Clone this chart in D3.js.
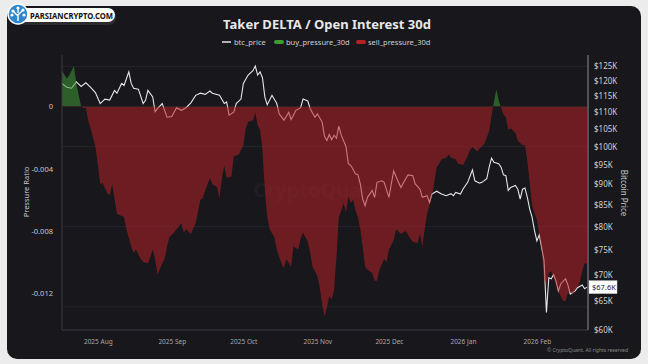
<!DOCTYPE html>
<html>
<head>
<meta charset="UTF-8">
<title>Taker DELTA / Open Interest 30d</title>
<script src="https://d3js.org/d3.v7.min.js"></script>
<style>
  body { margin: 0; padding: 0; background: #ececec; }
  svg { display: block; font-family: "Noto Sans", "Open Sans", sans-serif; }
</style>
</head>
<body>
<svg id="chart" width="648" height="364"></svg>
<script>
// btc price in $K
const priceData = [
  ["2025-07-17",119.2],["2025-07-19",117.9],["2025-07-21",117.6],["2025-07-23",119.7],["2025-07-25",118.2],
  ["2025-07-27",119.4],["2025-07-29",117.9],["2025-07-31",116.2],["2025-08-02",112.7],["2025-08-04",114.1],
  ["2025-08-06",113.8],["2025-08-08",116.9],["2025-08-09",116.0],["2025-08-11",119.2],["2025-08-12",118.5],
  ["2025-08-14",123.1],["2025-08-15",119.2],["2025-08-16",117.6],["2025-08-18",117.3],["2025-08-20",112.7],
  ["2025-08-21",113.7],["2025-08-22",116.9],["2025-08-24",114.8],["2025-08-25",110.2],["2025-08-26",111.1],
  ["2025-08-28",112.7],["2025-08-30",108.5],["2025-09-01",108.7],["2025-09-03",111.4],["2025-09-05",110.6],
  ["2025-09-07",111.4],["2025-09-09",112.9],["2025-09-11",115.3],["2025-09-13",116.0],["2025-09-15",115.6],
  ["2025-09-17",116.7],["2025-09-18",116.0],["2025-09-21",115.3],["2025-09-23",112.7],["2025-09-24",113.2],
  ["2025-09-25",109.1],["2025-09-27",110.0],["2025-09-28",112.7],["2025-09-30",114.1],["2025-10-01",119.2],
  ["2025-10-03",122.0],["2025-10-05",123.5],["2025-10-06",125.1],["2025-10-07",122.0],["2025-10-08",123.1],
  ["2025-10-09",121.1],["2025-10-10",114.8],["2025-10-11",112.3],["2025-10-13",115.3],["2025-10-15",112.7],
  ["2025-10-16",109.5],["2025-10-18",107.6],["2025-10-20",110.0],["2025-10-21",107.8],["2025-10-23",110.6],
  ["2025-10-25",111.4],["2025-10-26",114.1],["2025-10-28",113.5],["2025-10-29",111.1],["2025-10-31",108.5],
  ["2025-11-01",109.5],["2025-11-03",107.1],["2025-11-04",102.9],["2025-11-05",101.7],["2025-11-06",103.4],
  ["2025-11-07",101.9],["2025-11-08",103.2],["2025-11-09",102.3],["2025-11-10",105.8],["2025-11-11",103.2],
  ["2025-11-13",100.0],["2025-11-14",95.3],["2025-11-15",94.9],["2025-11-17",92.7],["2025-11-18",92.4],
  ["2025-11-19",90.1],["2025-11-20",86.4],["2025-11-21",84.8],["2025-11-22",86.8],["2025-11-24",88.5],
  ["2025-11-25",86.8],["2025-11-26",90.5],["2025-11-28",90.9],["2025-11-29",90.5],["2025-12-01",86.8],
  ["2025-12-02",90.1],["2025-12-03",93.4],["2025-12-05",90.5],["2025-12-06",89.2],["2025-12-08",91.4],
  ["2025-12-09",92.4],["2025-12-11",92.2],["2025-12-12",90.1],["2025-12-14",88.8],["2025-12-15",86.8],
  ["2025-12-17",87.2],["2025-12-18",85.6],["2025-12-19",87.6],["2025-12-21",88.3],["2025-12-23",87.6],
  ["2025-12-25",87.2],["2025-12-27",87.7],["2025-12-28",87.2],["2025-12-29",88.0],["2025-12-31",87.6],
  ["2026-01-01",88.8],["2026-01-03",90.5],["2026-01-04",92.1],["2026-01-05",93.7],["2026-01-06",90.9],
  ["2026-01-08",90.3],["2026-01-09",90.5],["2026-01-11",91.4],["2026-01-12",94.4],["2026-01-13",96.8],
  ["2026-01-14",95.7],["2026-01-16",95.3],["2026-01-17",94.4],["2026-01-18",92.4],["2026-01-19",92.2],
  ["2026-01-20",88.5],["2026-01-21",89.2],["2026-01-23",89.7],["2026-01-24",88.8],["2026-01-25",86.4],
  ["2026-01-26",88.8],["2026-01-27",89.1],["2026-01-28",86.8],["2026-01-29",84.0],["2026-01-30",82.1],
  ["2026-01-31",79.1],["2026-02-01",76.9],["2026-02-02",78.2],["2026-02-03",75.5],["2026-02-04",72.8],
  ["2026-02-05",63.0],["2026-02-06",69.4],["2026-02-07",69.2],["2026-02-08",70.0],["2026-02-09",68.8],
  ["2026-02-10",66.9],["2026-02-11",68.2],["2026-02-13",69.2],["2026-02-14",68.0],["2026-02-15",66.3],
  ["2026-02-17",66.9],["2026-02-18",67.5],["2026-02-20",68.0],["2026-02-21",67.3],["2026-02-22",67.6]
];

// taker delta / OI 30d (positive = buy, negative = sell)
const pressureData = [
  ["2025-07-17",0.0023],["2025-07-19",0.0018],["2025-07-20",0.0020],["2025-07-22",0.0026],["2025-07-23",0.0015],
  ["2025-07-25",0.0000],["2025-07-26",-0.0001],["2025-07-27",-0.0001],["2025-07-28",-0.0009],["2025-07-30",-0.0020],
  ["2025-07-31",-0.0026],["2025-08-01",-0.0037],["2025-08-02",-0.0050],["2025-08-03",-0.0049],["2025-08-05",-0.0056],
  ["2025-08-06",-0.0057],["2025-08-07",-0.0050],["2025-08-08",-0.0059],["2025-08-09",-0.0069],["2025-08-12",-0.0071],
  ["2025-08-13",-0.0079],["2025-08-15",-0.0090],["2025-08-16",-0.0094],["2025-08-17",-0.0092],["2025-08-19",-0.0098],
  ["2025-08-20",-0.0100],["2025-08-22",-0.0101],["2025-08-23",-0.0097],["2025-08-24",-0.0092],["2025-08-25",-0.0098],
  ["2025-08-26",-0.0108],["2025-08-28",-0.0101],["2025-08-29",-0.0098],["2025-08-30",-0.0090],["2025-08-31",-0.0084],
  ["2025-09-02",-0.0081],["2025-09-03",-0.0079],["2025-09-05",-0.0075],["2025-09-06",-0.0081],["2025-09-07",-0.0079],
  ["2025-09-09",-0.0082],["2025-09-11",-0.0075],["2025-09-13",-0.0060],["2025-09-14",-0.0059],["2025-09-15",-0.0054],
  ["2025-09-17",-0.0046],["2025-09-18",-0.0050],["2025-09-20",-0.0052],["2025-09-21",-0.0059],["2025-09-22",-0.0046],
  ["2025-09-23",-0.0038],["2025-09-24",-0.0046],["2025-09-26",-0.0045],["2025-09-27",-0.0032],["2025-09-29",-0.0031],
  ["2025-10-01",-0.0025],["2025-10-02",-0.0014],["2025-10-03",-0.0010],["2025-10-05",-0.0009],["2025-10-06",-0.0004],
  ["2025-10-07",-0.0012],["2025-10-08",-0.0015],["2025-10-09",-0.0028],["2025-10-10",-0.0054],["2025-10-11",-0.0071],
  ["2025-10-12",-0.0079],["2025-10-14",-0.0084],["2025-10-15",-0.0092],["2025-10-17",-0.0101],["2025-10-18",-0.0104],
  ["2025-10-19",-0.0098],["2025-10-21",-0.0103],["2025-10-22",-0.0090],["2025-10-24",-0.0092],["2025-10-25",-0.0085],
  ["2025-10-26",-0.0081],["2025-10-28",-0.0087],["2025-10-29",-0.0094],["2025-10-30",-0.0103],["2025-11-01",-0.0109],
  ["2025-11-02",-0.0116],["2025-11-03",-0.0127],["2025-11-04",-0.0135],["2025-11-05",-0.0129],["2025-11-06",-0.0122],
  ["2025-11-07",-0.0124],["2025-11-08",-0.0118],["2025-11-09",-0.0097],["2025-11-10",-0.0071],["2025-11-11",-0.0067],
  ["2025-11-12",-0.0062],["2025-11-13",-0.0068],["2025-11-14",-0.0058],["2025-11-15",-0.0062],["2025-11-16",-0.0060],
  ["2025-11-17",-0.0067],["2025-11-18",-0.0071],["2025-11-19",-0.0079],["2025-11-20",-0.0090],["2025-11-21",-0.0103],
  ["2025-11-22",-0.0105],["2025-11-24",-0.0107],["2025-11-25",-0.0112],["2025-11-26",-0.0112],["2025-11-27",-0.0105],
  ["2025-11-29",-0.0098],["2025-11-30",-0.0100],["2025-12-01",-0.0092],["2025-12-03",-0.0086],["2025-12-04",-0.0079],
  ["2025-12-06",-0.0082],["2025-12-07",-0.0081],["2025-12-08",-0.0080],["2025-12-10",-0.0085],["2025-12-11",-0.0087],
  ["2025-12-13",-0.0088],["2025-12-14",-0.0082],["2025-12-15",-0.0090],["2025-12-16",-0.0079],["2025-12-17",-0.0069],
  ["2025-12-19",-0.0058],["2025-12-20",-0.0049],["2025-12-21",-0.0039],["2025-12-22",-0.0037],["2025-12-23",-0.0034],
  ["2025-12-25",-0.0033],["2025-12-26",-0.0031],["2025-12-27",-0.0033],["2025-12-29",-0.0034],["2025-12-30",-0.0037],
  ["2025-12-31",-0.0037],["2026-01-01",-0.0038],["2026-01-03",-0.0032],["2026-01-04",-0.0028],["2026-01-05",-0.0026],
  ["2026-01-07",-0.0029],["2026-01-08",-0.0027],["2026-01-10",-0.0024],["2026-01-11",-0.0020],["2026-01-12",-0.0016],
  ["2026-01-13",-0.0006],["2026-01-14",0.0003],["2026-01-15",0.0011],["2026-01-16",0.0004],["2026-01-17",-0.0001],
  ["2026-01-18",-0.0005],["2026-01-19",-0.0007],["2026-01-20",-0.0015],["2026-01-21",-0.0014],["2026-01-23",-0.0017],
  ["2026-01-24",-0.0022],["2026-01-26",-0.0025],["2026-01-27",-0.0025],["2026-01-28",-0.0035],["2026-01-29",-0.0049],
  ["2026-01-30",-0.0064],["2026-02-01",-0.0073],["2026-02-02",-0.0082],["2026-02-03",-0.0092],["2026-02-04",-0.0111],
  ["2026-02-05",-0.0115],["2026-02-06",-0.0107],["2026-02-07",-0.0106],["2026-02-08",-0.0110],["2026-02-09",-0.0115],
  ["2026-02-10",-0.0119],["2026-02-11",-0.0122],["2026-02-12",-0.0125],["2026-02-13",-0.0125],["2026-02-14",-0.0120],
  ["2026-02-15",-0.0119],["2026-02-16",-0.0121],["2026-02-17",-0.0118],["2026-02-18",-0.0116],["2026-02-19",-0.0113],
  ["2026-02-20",-0.0106],["2026-02-21",-0.0101],["2026-02-22",-0.0101]
];

const pressureTicks = [0, -0.004, -0.008, -0.012];
const priceTicks = [60,65,70,75,80,85,90,95,100,105,110,115,120,125];
const priceGrid = [125, 100, 80, 64];
const legendItems = [
  {name: "btc_price", type: "line", color: "#e6e6e6"},
  {name: "buy_pressure_30d", type: "box", color: "#3f9a38"},
  {name: "sell_pressure_30d", type: "box", color: "#b52226"}
];

const parse = d3.utcParse("%Y-%m-%d");
const price = priceData.map(d => ({date: parse(d[0]), v: d[1]}));
const pressure = pressureData.map(d => ({date: parse(d[0]), v: d[1]}));

const svg = d3.select("#chart");
const plotL = 62, plotR = 588, plotT = 55, plotB = 330;

// panel
svg.append("rect").attr("x", 7).attr("y", 6).attr("width", 634).attr("height", 353)
  .attr("rx", 10).attr("fill", "#17171c");

const x = d3.scaleUtc().domain([parse("2025-07-17"), parse("2026-02-22")]).range([plotL, 587]);
const yP = d3.scaleLinear().domain([-0.01437, 0.00331]).range([plotB, plotT]);
const yB = d3.scaleLog().domain([60, 129]).range([plotB, plotT]);

// faint grid
svg.append("g").selectAll("line").data(priceGrid).enter().append("line")
  .attr("x1", plotL).attr("x2", plotR)
  .attr("y1", d => yB(d)).attr("y2", d => yB(d))
  .attr("stroke", "#24242a").attr("stroke-width", 1);

// watermark
svg.append("text").attr("x", 318).attr("y", 197).attr("text-anchor", "middle")
  .attr("font-size", 20).attr("font-weight", "bold").attr("fill", "#ffffff").attr("opacity", 0.025)
  .text("CryptoQuant");

// price line (drawn under the areas, like the reference)
svg.append("path").datum(price)
  .attr("d", d3.line().x(d => x(d.date)).y(d => yB(d.v)))
  .attr("fill", "none").attr("stroke", "#e6e6e6").attr("stroke-width", 1.1);

// pressure areas split at zero with clips
const defs = svg.append("defs");
defs.append("clipPath").attr("id", "above").append("rect")
  .attr("x", plotL).attr("y", plotT).attr("width", plotR - plotL).attr("height", yP(0) - plotT);
defs.append("clipPath").attr("id", "below").append("rect")
  .attr("x", plotL).attr("y", yP(0)).attr("width", plotR - plotL).attr("height", plotB - yP(0));

const area = d3.area().x(d => x(d.date)).y0(yP(0)).y1(d => yP(d.v));
svg.append("path").datum(pressure).attr("d", area)
  .attr("fill", "#3f9a38").attr("fill-opacity", 0.55).attr("clip-path", "url(#above)");
svg.append("path").datum(pressure).attr("d", area)
  .attr("fill", "#b52226").attr("fill-opacity", 0.55).attr("clip-path", "url(#below)");

// axis lines
svg.append("line").attr("x1", plotL).attr("x2", plotL).attr("y1", plotT).attr("y2", plotB)
  .attr("stroke", "#3a3a42");
svg.append("line").attr("x1", plotL).attr("x2", plotR).attr("y1", plotB).attr("y2", plotB)
  .attr("stroke", "#3a3a42");
svg.append("line").attr("x1", plotR).attr("x2", plotR).attr("y1", plotT).attr("y2", plotB)
  .attr("stroke", "#8c8c94");

// left axis
const axL = svg.append("g").attr("transform", `translate(${plotL - 6},0)`)
  .call(d3.axisLeft(yP).tickValues(pressureTicks).tickSize(0).tickFormat(d => d === 0 ? "0" : d.toFixed(3)));
axL.select(".domain").remove();
axL.selectAll("text").attr("fill", "#c8c8c8").attr("font-size", 7.5).attr("font-family", "Noto Sans");

// right axis
const axR = svg.append("g").attr("transform", `translate(${plotR + 3},0)`)
  .call(d3.axisRight(yB).tickValues(priceTicks).tickSize(0).tickFormat(d => "$" + d + "K"));
axR.select(".domain").remove();
axR.selectAll("text").attr("fill", "#d0d0d0").attr("font-size", 8).attr("font-family", "Noto Sans");

// bottom axis
const axB = svg.append("g").attr("transform", `translate(0,${plotB + 6})`)
  .call(d3.axisBottom(x).ticks(d3.utcMonth.every(1)).tickSize(0).tickFormat(d3.utcFormat("%Y %b")));
axB.select(".domain").remove();
axB.selectAll("text").attr("fill", "#a8a8a8").attr("font-size", 6.5).attr("font-family", "Noto Sans");

// axis titles
svg.append("text").attr("transform", "translate(29,192) rotate(-90)").attr("text-anchor", "middle")
  .attr("font-size", 7.5).attr("fill", "#c8c8c8").text("Pressure Ratio");
svg.append("text").attr("transform", "translate(621,193) rotate(90)").attr("text-anchor", "middle")
  .attr("font-size", 8).attr("fill", "#c8c8c8").text("Bitcoin Price");

// last value label
const last = price[price.length - 1];
svg.append("rect").attr("x", plotR + 1).attr("y", yB(last.v) - 6.5).attr("width", 28).attr("height", 13)
  .attr("fill", "#ffffff").attr("stroke", "#bbbbbb").attr("stroke-width", 0.5);
svg.append("text").attr("x", plotR + 4).attr("y", yB(last.v) + 3).attr("font-size", 7.5)
  .attr("fill", "#222").text("$" + last.v.toFixed(1) + "K");

// title
svg.append("text").attr("x", 327).attr("y", 29).attr("text-anchor", "middle")
  .attr("font-size", 13).attr("font-weight", "bold").attr("fill", "#e8e8e8")
  .text("Taker DELTA / Open Interest 30d");

// legend
const legendX = [222, 274, 356];
const lg = svg.append("g").selectAll("g").data(legendItems).enter().append("g")
  .attr("transform", (d, i) => `translate(${legendX[i]},42)`);
lg.filter(d => d.type === "line").append("line").attr("x1", 0).attr("x2", 9).attr("y1", 0).attr("y2", 0)
  .attr("stroke", d => d.color).attr("stroke-width", 1.5);
lg.filter(d => d.type === "box").append("rect").attr("x", 0).attr("y", -2).attr("width", 10).attr("height", 4)
  .attr("rx", 2).attr("fill", d => d.color);
lg.append("text").attr("x", 12).attr("y", 2.7).attr("font-size", 7.5)
  .attr("fill", "#cfcfcf").text(d => d.name);

// copyright
svg.append("text").attr("x", 628).attr("y", 352).attr("text-anchor", "end").attr("font-size", 5)
  .attr("fill", "#8a8a8a").text("© CryptoQuant. All rights reserved");

// site badge
svg.append("rect").attr("x", 18).attr("y", 10).attr("width", 98).attr("height", 15).attr("rx", 7)
  .attr("fill", "#3a3a3a").attr("opacity", 0.6);
svg.append("rect").attr("x", 18).attr("y", 8).attr("width", 97).attr("height", 14).attr("rx", 7)
  .attr("fill", "#ffffff");
svg.append("circle").attr("cx", 18).attr("cy", 14).attr("r", 10).attr("fill", "#2f86c8")
  .attr("stroke", "#ffffff").attr("stroke-width", 1.5);
const tree = svg.append("g").attr("stroke", "#ffffff").attr("stroke-width", 1.4).attr("fill", "none");
tree.append("path").attr("d", "M18,21 L18,14 M18,16 L13,11 M18,15 L23,10 M18,13 L18,8");
tree.selectAll("circle").data([[13,11],[23,10],[18,8],[12,15],[24,15]]).enter().append("circle")
  .attr("cx", d => d[0]).attr("cy", d => d[1]).attr("r", 1.6).attr("fill", "#ffffff").attr("stroke", "none");
svg.append("text").attr("x", 30).attr("y", 19).attr("font-size", 8.5).attr("font-weight", "bold")
  .attr("fill", "#111").attr("textLength", 83).attr("lengthAdjust", "spacingAndGlyphs")
  .text("PARSIANCRYPTO.COM");
</script>
</body>
</html>
